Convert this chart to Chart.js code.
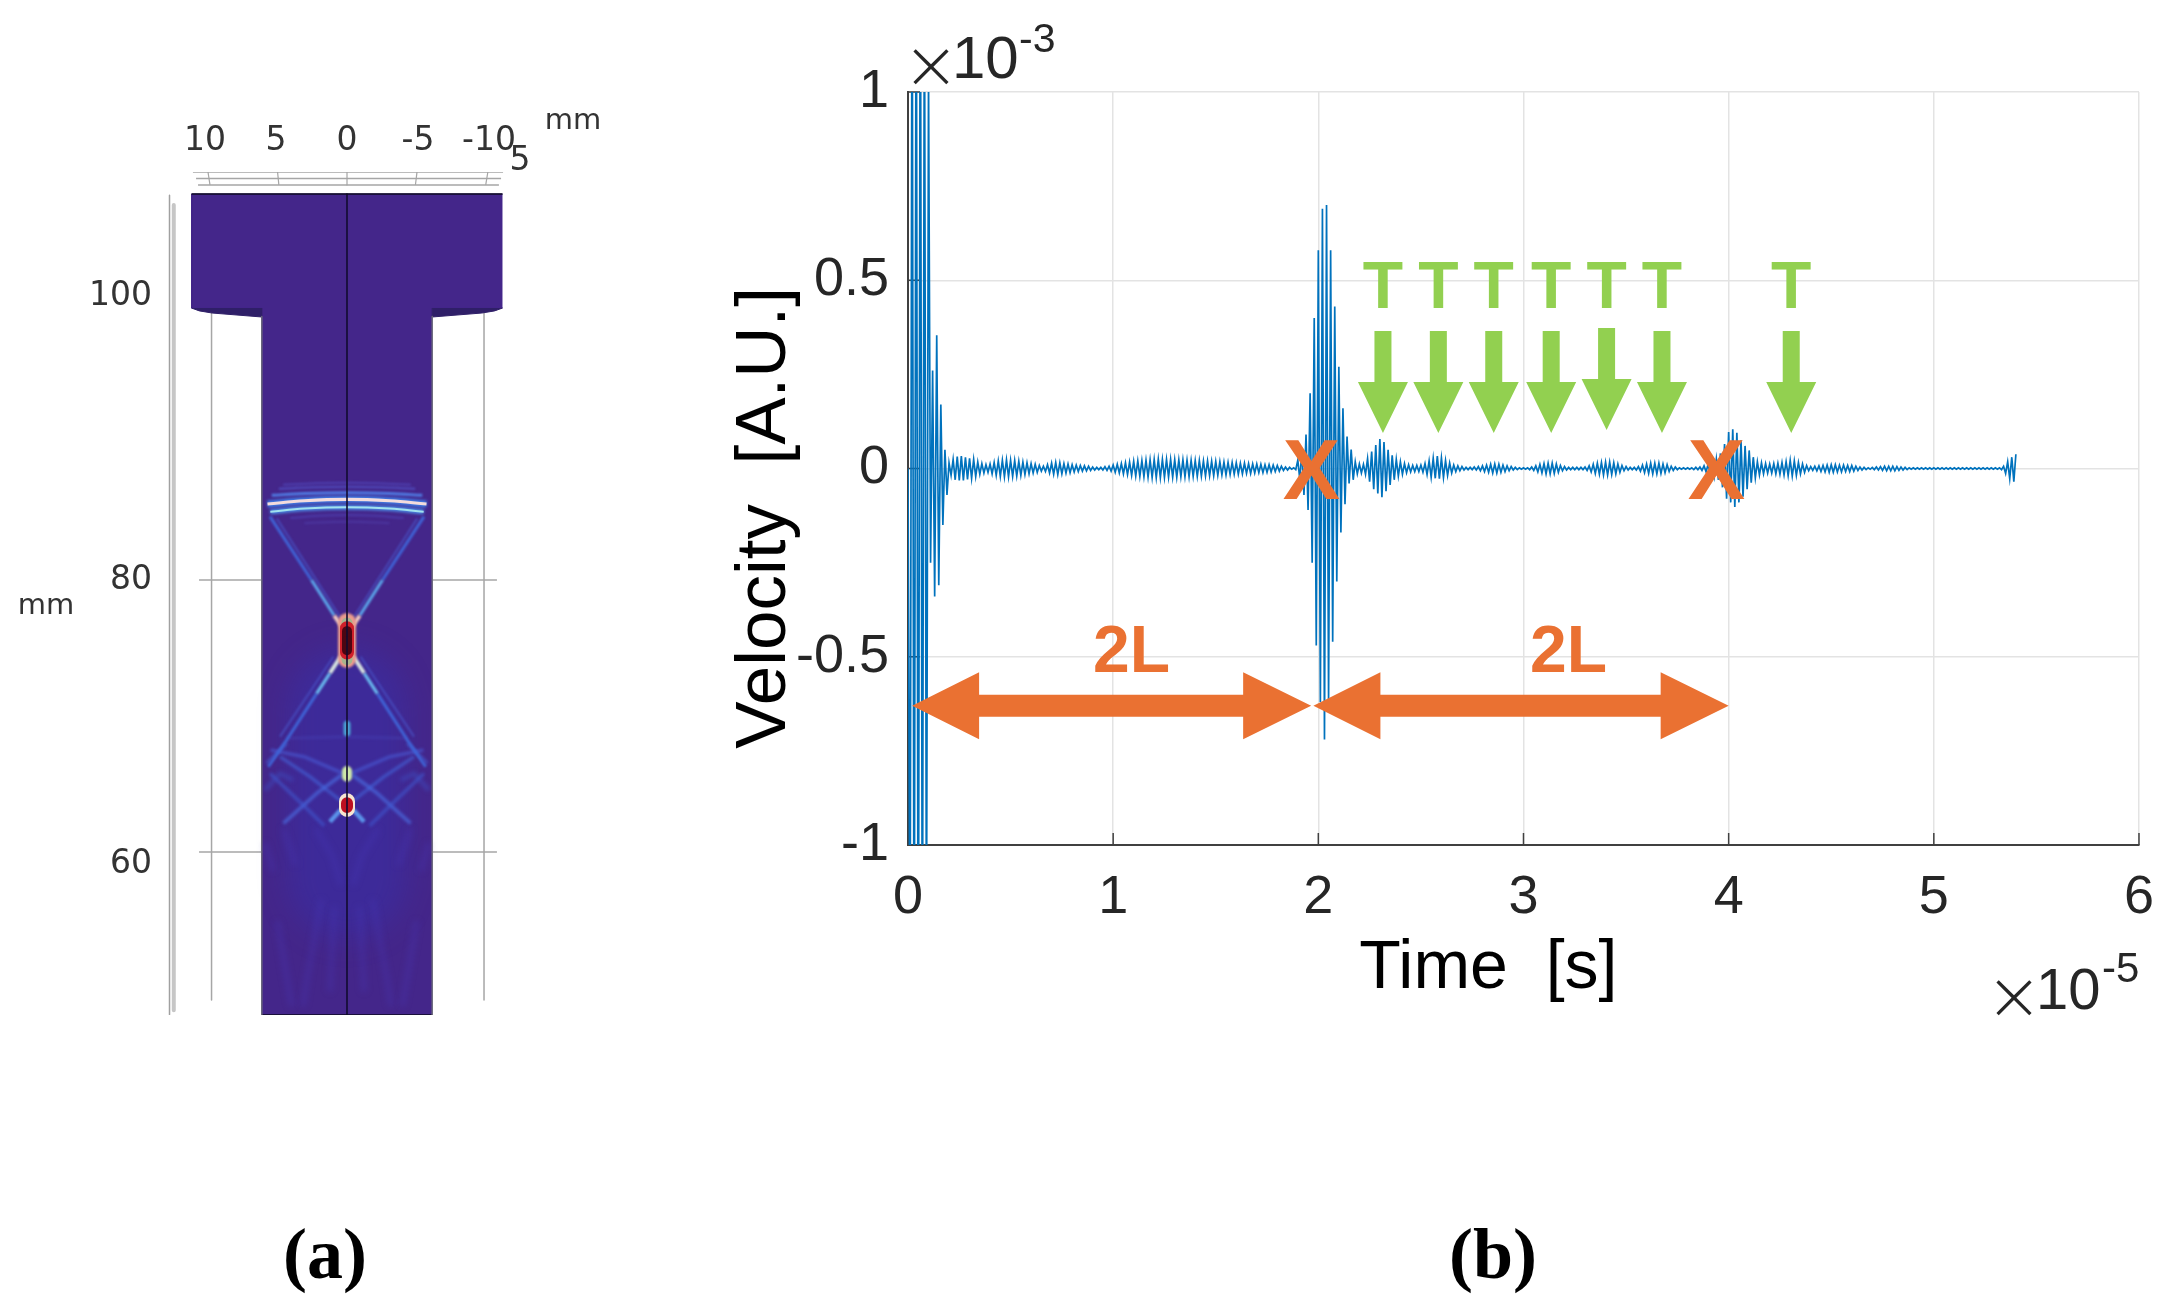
<!DOCTYPE html>
<html><head><meta charset="utf-8">
<script src="https://cdn.jsdelivr.net/npm/chart.js@4"></script>
<style>html,body{margin:0;padding:0;background:#fff}canvas{position:absolute;left:0;top:0}</style>
</head><body>
<canvas id="field" width="2175" height="1308"></canvas>
<canvas id="signal" width="2175" height="1308"></canvas>
<script>
/* ---------- panel (b): velocity samples, one sample every 0.01 ×10^-5 s, in ×10^-3 A.U. ---------- */
const timeTicksStep = 1;
const sampleStep = 0.01;
const velocity00 = [0,-1.4,1.5,-1.6,1.6,-1.7,1.6,-1.5,1.4,-1.3,
 1.05,-.25,.26,-.34,.354,-.31,.17,-.15,.05,-.07,
 .015,-.018,.024,-.03,.032,-.032,.033,-.032,.03,-.029,
 .027,-.026,.024,-.021,.017,-.015,.013,-.012,.01,-.01,
 .012,-.014,.016,-.018,.02,-.021,.022,-.022,.023,-.022];
const velocity05 = [.022,-.021,.021,-.02,.019,-.018,.017,-.016,.015,-.014,
 .013,-.012,.011,-.01,.008,-.007,.006,-.008,.01,-.012,
 .014,-.015,.016,-.016,.015,-.014,.013,-.012,.012,-.011,
 .01,-.009,.009,-.008,.008,-.007,.007,-.006,.006,-.005,
 .004,-.004,.003,-.003,.003,-.004,.005,-.005,.006,-.007];
const velocity10 = [.009,-.01,.011,-.012,.013,-.014,.015,-.016,.017,-.018,
 .019,-.02,.02,-.021,.021,-.022,.022,-.023,.023,-.024,
 .024,-.024,.025,-.024,.024,-.024,.024,-.023,.024,-.023,
 .023,-.023,.023,-.022,.023,-.022,.022,-.022,.022,-.021,
 .021,-.021,.021,-.02,.02,-.02,.02,-.019,.019,-.019];
const velocity15 = [.019,-.018,.018,-.017,.017,-.017,.016,-.016,.016,-.015,
 .015,-.015,.014,-.014,.014,-.013,.013,-.013,.012,-.012,
 .012,-.011,.011,-.011,.01,-.01,.01,-.009,.009,-.008,
 .008,-.007,.006,-.005,.004,-.004,.003,-.002,.002,-.003,
 .022,-.03,.05,-.07,.09,-.11,.2,-.25,.4,-.47];
const velocity20 = [.58,-.62,.69,-.72,.7,-.62,.58,-.46,.43,-.3,
 .27,-.17,.16,-.095,.085,-.04,.05,-.03,.018,-.014,
 .012,-.012,.011,-.015,.026,-.035,.045,-.055,.062,-.066,
 .078,-.076,.07,-.06,.05,-.044,.035,-.03,.024,-.02,
 .018,-.015,.013,-.011,.01,-.009,.008,-.008,.008,-.008];
const velocity25 = [.009,-.01,.013,-.016,.02,-.023,.027,-.026,.033,-.027,
 .028,-.024,.021,-.018,.015,-.012,.009,-.008,.007,-.006,
 .005,-.004,.003,-.003,.003,-.003,.004,-.004,.005,-.006,
 .007,-.008,.009,-.01,.011,-.012,.012,-.012,.011,-.01,
 .009,-.008,.007,-.006,.005,-.004,.003,-.003,.002,-.002];
const velocity30 = [.002,-.002,.002,-.003,.004,-.005,.007,-.009,.011,-.012,
 .013,-.014,.014,-.014,.014,-.013,.012,-.01,.008,-.006,
 .005,-.004,.003,-.003,.003,-.003,.003,-.003,.003,-.003,
 .004,-.005,.007,-.009,.011,-.013,.014,-.015,.016,-.017,
 .017,-.017,.017,-.016,.015,-.014,.012,-.01,.008,-.006];
const velocity35 = [.005,-.004,.003,-.003,.003,-.004,.005,-.007,.009,-.011,
 .012,-.013,.014,-.014,.014,-.014,.014,-.013,.012,-.011,
 .01,-.008,.006,-.005,.004,-.003,.002,-.002,.002,-.002,
 .002,-.002,.002,-.003,.003,-.003,.004,-.005,.007,-.009,
 .012,-.015,.018,-.02,.025,-.03,.04,-.05,.065,-.08];
const velocity40 = [.097,-.09,.104,-.102,.095,-.09,.075,-.075,.06,-.055,
 .048,-.038,.03,-.025,.018,-.017,.015,-.014,.013,-.012,
 .012,-.012,.013,-.014,.014,-.015,.016,-.017,.018,-.019,
 .022,-.02,.02,-.018,.016,-.014,.012,-.01,.008,-.006,
 .005,-.005,.006,-.006,.007,-.008,.008,-.009,.009,-.01];
const velocity45 = [.01,-.01,.01,-.009,.009,-.009,.009,-.008,.008,-.008,
 .008,-.007,.006,-.005,.004,-.004,.003,-.003,.002,-.002,
 .003,-.003,.004,-.004,.005,-.005,.006,-.006,.006,-.006,
 .006,-.006,.005,-.005,.004,-.004,.003,-.003,.002,-.002,
 .002,-.002,.002,-.002,.002,-.002,.002,-.002,.002,-.002];
const velocity50 = [.002,-.002,.002,-.002,.002,-.002,.002,-.002,.002,-.002,
 .002,-.002,.002,-.002,.002,-.002,.002,-.002,.002,-.002,
 .002,-.002,.002,-.002,.002,-.002,.002,-.002,.002,-.002,
 .002,-.002,.002,-.003,.006,-.013,.018,-.027,.03,-.035,.038];

const transverseTimes = [2.315,2.585,2.855,3.135,3.405,3.675,4.305];
const transverseTips  = [.094,.094,.094,.094,.102,.094,.094];
const crossTimes = [1.966,3.94];
const spanStarts = [.02,1.976];
const spanEnds   = [1.965,4.0];
const spanLabelTimes = [1.09,3.22];
const spanVelocity = -.63;

/* ---------- panel (a): geometry and field features, in mm ---------- */
const depthTicks = [100,80,60];
const widthTicks = [10,5,0,-5,-10];
const bodyOutline = [[-10.95,107.18],[10.95,107.18],[10.95,99.15],[6,99.15],[6,49.37],[-6,49.37],[-6,99.15],[-10.95,99.15]];
const flangeUnder = [[10.95,99.15],[10.4,98.95],[9.5,98.8],[6,98.52],[6,99.15]];
const guideVerticalX = [9.54,-9.65];
const guideHorizontalY = [80,60.85];
const topGridY = [108.73,108.27,107.82];
const topGridLeft = [10.85,10.63,10.49];
const topGridRight = [-10.99,-10.85,-10.7];
const topTicks = [[9.79,108.73,9.65,107.82],[4.89,108.73,4.8,107.82],[0,108.73,0,107.82],[-4.93,108.73,-4.82,107.82],[-9.92,108.73,-9.77,107.82]];
const arcMain  = [[5.6,85.35],[3,85.58],[0,85.68],[-3,85.58],[-5.6,85.35]];
const arcLower = [[5.4,84.81],[3,85.03],[0,85.12],[-3,85.03],[-5.4,84.81]];
const arcUpper = [[5.3,85.96],[3,86.09],[0,86.15],[-3,86.09],[-5.3,85.96]];
const arcFaintA = [[4.8,86.43],[2.4,86.53],[0,86.57],[-2.4,86.53],[-4.8,86.43]];
const arcFaintB = [[4.5,86.7],[2.2,86.81],[0,86.85],[-2.2,86.81],[-4.5,86.7]];
const arcFaintC = [[4,84.36],[2,84.52],[0,84.57],[-2,84.52],[-4,84.36]];
const arcFaintD = [[3,84],[1.5,84.07],[0,84.1],[-1.5,84.07],[-3,84]];
const rayTopOuter = [[5.42,84.46],[2.5,80]];
const rayTopMid   = [[2.5,80],[.9,77.5]];
const rayTopInner = [[.9,77.5],[.35,76.7]];
const rayTopFaint = [[4.95,84.34],[.49,77.4]];
const rayLowInner = [[.45,74.6],[1.2,73.45]];
const rayLowMid   = [[1.2,73.45],[2.14,72]];
const rayLowOuter = [[2.14,72],[4.25,68.73],[5.54,66.85]];
const rayLowFaint = [[.96,74.6],[4.72,68.97]];
const webA = [[4.25,68.85],[0,68.97]];
const webB = [[5.66,67.09],[4.25,68.5]];
const webC = [[0,66.27],[3.03,67.56],[5.38,68.03]];
const webD = [[4.48,62.86],[2.14,64.97],[.38,66.27]];
const webE = [[5.42,66.38],[2.84,63.92],[1.6,62.7]];
const webF = [[.49,64.5],[2.6,66.15],[4.72,67.56]];
const webG = [[.45,63.8],[1.2,62.98]];
const webH = [[5.77,65.21],[4.72,66.38],[3.78,65.9]];
const streakA = [[2.2,62.5],[1,60.5],[.4,58.5]];
const streakB = [[4.5,62.5],[3.6,59.9]];
const streakC = [[5.8,61.5],[5.2,59.5]];
const streakD = [[1.8,57.5],[2.8,52],[3.1,50]];
const streakE = [[4.9,56],[3.9,50]];
const streakF = [[.9,57],[1.2,51]];
const lowerWash = [[0,71],[0,59]];
const hotHalo = [[0,77.05],[0,74.45]];
const hotRed  = [[0,76.6],[0,74.9]];
const hotDarkA = [[0,76.4],[0,75.8]];
const hotDarkB = [[0,75.7],[0,75.05]];
const hotCapA = [[0,76.98],[0,76.74]];
const hotCapB = [[0,74.66],[0,74.4]];
const spotBlue = [[0,69.85],[0,69.25]];
const spotPale = [[0,66.55],[0,66.15]];
const spotRedHalo = [[0,64.42],[0,63.88]];
const spotRedCore = [[0,64.28],[0,64.02]];
const centreLine = [[0,107.18],[0,49.37]];
const gaugeDark = [[12.5,107.1],[12.5,49.4]];
const gaugeLight = [[12.2,106.4],[12.2,49.7]];

/* ---------- shared helpers ---------- */
const SANS = '"Liberation Sans", Arial, sans-serif';
function put(ctx, s, x, y, font, color, align) {
  ctx.font = font; ctx.fillStyle = color; ctx.textAlign = align || 'center'; ctx.textBaseline = 'alphabetic';
  ctx.fillText(s, x, y);
}
const ORANGE = '#EA7132', GREEN = '#92D050';

/* ---------- panel (a) ---------- */
const layers = [];
function add(pts, color, width, opt) {
  opt = opt || {};
  layers.push({
    data: pts.map(p => ({x: p[0], y: p[1]})),
    borderColor: color, borderWidth: width, pointRadius: 0,
    tension: opt.tension || 0, blurPx: opt.blur || 0,
    fill: opt.fill ? 'shape' : false, backgroundColor: opt.fill || 'transparent',
    borderCapStyle: opt.cap || 'butt', borderJoinStyle: 'round'
  });
}
function both(pts, color, width, opt) {
  add(pts, color, width, opt);
  add(pts.map(p => [-p[0], p[1]]), color, width, opt);
}
const GUIDE = '#a6a6a6';
add(gaugeLight, '#c6c6c6', 4);
add(gaugeDark, '#a0a0a0', 1.5);
guideVerticalX.forEach(x => add([[x,98.8],[x,50.43]], GUIDE, 1.5));
guideHorizontalY.forEach(y => add([[10.42,y],[-10.56,y]], GUIDE, 1.5));
topGridY.forEach((y,i) => add([[topGridLeft[i],y],[topGridRight[i],y]], GUIDE, 1.5));
topTicks.forEach(t => add([[t[0],t[1]],[t[2],t[3]]], GUIDE, 1.2));
add(bodyOutline, '#44268a', 1, {fill:'#44268a'});
add(flangeUnder, '#2f1f68', 1, {fill:'#2f1f68'});
add(flangeUnder.map(p => [-p[0],p[1]]), '#2f1f68', 1, {fill:'#2f1f68'});
add(lowerWash, 'rgba(48,52,190,.3)', 120, {blur:14});
[streakA,streakB,streakC,streakD,streakE,streakF].forEach(s => both(s, 'rgba(72,60,190,.32)', 5, {blur:3}));
both(webA, 'rgba(80,90,210,.35)', 2, {blur:1.4});
both(webB, 'rgba(66,100,220,.6)', 3, {blur:1.6});
both(webC, 'rgba(74,96,220,.65)', 3, {blur:1.6});
both(webD, 'rgba(74,110,226,.7)', 3.5, {blur:1.8});
both(webE, 'rgba(64,90,210,.6)', 3.5, {blur:1.8});
both(webF, 'rgba(68,104,222,.65)', 3, {blur:1.6});
both(webH, 'rgba(62,80,196,.55)', 4, {blur:2});
both(webG, '#5b94ea', 4.5, {blur:1.2});
add(arcFaintB, 'rgba(84,84,205,.55)', 2, {blur:1.2, tension:.4});
add(arcFaintA, 'rgba(84,96,215,.65)', 2, {blur:1.2, tension:.4});
add(arcFaintC, 'rgba(84,78,195,.5)', 2, {blur:1.2, tension:.4});
add(arcFaintD, 'rgba(84,70,185,.45)', 2, {blur:1.2, tension:.4});
add(arcUpper, '#4f7ce4', 3, {blur:1, tension:.4});
add(arcLower, '#4a8fe8', 5, {blur:1.5, tension:.4});
add(arcLower, '#a2e2ee', 2, {blur:.6, tension:.4});
add(arcMain, '#3f7de6', 7, {blur:1.8, tension:.4});
add(arcMain, '#f3dcdc', 3.2, {blur:.6, tension:.4});
both(rayTopFaint, 'rgba(72,84,200,.7)', 2, {blur:1.2});
both(rayLowFaint, 'rgba(72,84,200,.7)', 2, {blur:1.2});
both(rayTopOuter, '#3f63d6', 3, {blur:1});
both(rayLowOuter, '#3f63d6', 3, {blur:1});
both(rayTopMid, '#5aa4ea', 3.2, {blur:.9});
both(rayLowMid, '#68b8ee', 3.2, {blur:.9});
both(rayTopInner, '#f0c8c0', 4, {blur:.8});
both(rayLowInner, '#d8e4e0', 4, {blur:.8});
add(hotHalo, '#ea9c8c', 18, {blur:1.2});
add(hotCapA, '#a8b48c', 11, {blur:.5});
add(hotCapB, '#a8b48c', 11, {blur:.5});
add(hotRed, '#cf1f2a', 14, {blur:.4});
add(hotDarkA, '#4c0612', 10, {blur:.3});
add(hotDarkB, '#4c0612', 10, {blur:.3});
add(spotBlue, '#4aa4d4', 7, {blur:1.2});
add(spotPale, '#cde8a8', 10, {blur:.8});
add(spotRedHalo, '#f6e6d2', 16, {blur:.4});
add(spotRedCore, '#bd1020', 12, {blur:.3});
add(centreLine, '#120c30', 1.6);
add([[-10.95,107.18],[10.95,107.18]], '#0d0a20', 1.6);
add([[-6,49.37],[6,49.37]], '#0d0a20', 1.6);
both([[6,98.55],[6,49.37]], '#6f6f7c', 1.4);

const fieldFx = {
  id: 'fieldFx',
  beforeDatasetDraw(chart, a) { const b = chart.data.datasets[a.index].blurPx; if (b) chart.ctx.filter = 'blur(' + b + 'px)'; },
  afterDatasetDraw(chart) { chart.ctx.filter = 'none'; },
  afterDraw(chart) {
    const c = chart.ctx; c.save();
    put(c, 'mm', 573, 129, '29px "DejaVu Sans"', '#333');
    put(c, 'mm', 46, 614, '29px "DejaVu Sans"', '#333');
    put(c, '5', 520, 170, '33px "DejaVu Sans"', '#333');
    put(c, '(a)', 325, 1278, 'bold 72px "Liberation Serif"', '#000');
    c.restore();
  }
};
new Chart(document.getElementById('field'), {
  type: 'line',
  data: { datasets: layers.slice().reverse() },
  options: {
    responsive: false, animation: false, devicePixelRatio: 1,
    layout: { padding: { left: 80, right: 1641, top: 112, bottom: 293 } },
    plugins: { legend: {display:false}, tooltip: {enabled:false}, title: {display:false} },
    scales: {
      x: { type:'linear', position:'top', reverse:true, min:-13.17, max:13.17,
        afterFit(s){ s.height = 60; },
        afterBuildTicks(s){ s.ticks = widthTicks.map(value => ({value})); },
        grid:{display:false, drawTicks:false}, border:{display:false},
        ticks:{ autoSkip:false, maxRotation:0, padding:11, color:'#333', font:{family:'DejaVu Sans',size:33}, callback:v=>String(v) } },
      y: { type:'linear', min:49.37, max:108.73,
        afterFit(s){ s.width = 80; },
        afterBuildTicks(s){ s.ticks = depthTicks.map(value => ({value})); },
        grid:{display:false, drawTicks:false}, border:{display:false},
        ticks:{ autoSkip:false, padding:8, color:'#333', font:{family:'DejaVu Sans',size:33}, callback:v=>String(v) } }
    }
  },
  plugins: [fieldFx]
});

/* ---------- panel (b) ---------- */
const velocitySeries = [].concat(velocity00,velocity05,velocity10,velocity15,velocity20,velocity25,velocity30,velocity35,velocity40,velocity45,velocity50);
const signalFx = {
  id: 'signalFx',
  beforeDatasetsDraw(chart) {
    const c = chart.ctx, a = chart.chartArea, sx = chart.scales.x, sy = chart.scales.y;
    c.save(); c.strokeStyle = '#404040'; c.lineWidth = 1.5; c.beginPath();
    sx.ticks.forEach(t => { const p = sx.getPixelForValue(t.value); c.moveTo(p, a.bottom); c.lineTo(p, a.bottom - 12); });
    sy.ticks.forEach(t => { const p = sy.getPixelForValue(t.value); c.moveTo(a.left, p); c.lineTo(a.left + 12, p); });
    c.stroke(); c.restore();
  },
  afterDraw(chart) {
    const c = chart.ctx, sx = chart.scales.x, sy = chart.scales.y;
    c.save();
    // transverse echoes
    transverseTimes.forEach((t,i) => {
      const x = sx.getPixelForValue(t), tip = sy.getPixelForValue(transverseTips[i]);
      c.fillStyle = GREEN; c.beginPath();
      c.moveTo(x, tip); c.lineTo(x-25, tip-51); c.lineTo(x-8.5, tip-51); c.lineTo(x-8.5, tip-102);
      c.lineTo(x+8.5, tip-102); c.lineTo(x+8.5, tip-51); c.lineTo(x+25, tip-51); c.closePath(); c.fill();
      put(c, 'T', x, sy.getPixelForValue(.425), 'bold 66px ' + SANS, GREEN);
    });
    // two-way path arrows
    const yc = sy.getPixelForValue(spanVelocity);
    spanStarts.forEach((t0,i) => {
      const a0 = sx.getPixelForValue(t0), a1 = sx.getPixelForValue(spanEnds[i]);
      c.fillStyle = ORANGE; c.beginPath();
      c.moveTo(a0, yc); c.lineTo(a0+67, yc-33.5); c.lineTo(a0+67, yc-11); c.lineTo(a1-68, yc-11); c.lineTo(a1-68, yc-33.5);
      c.lineTo(a1, yc); c.lineTo(a1-68, yc+33.5); c.lineTo(a1-68, yc+11); c.lineTo(a0+67, yc+11); c.lineTo(a0+67, yc+33.5);
      c.closePath(); c.fill();
      put(c, '2L', sx.getPixelForValue(spanLabelTimes[i]), 672, 'bold 66px ' + SANS, ORANGE);
    });
    crossTimes.forEach(t => put(c, 'X', sx.getPixelForValue(t), 499, 'bold 86px ' + SANS, ORANGE));
    // axis multipliers
    const THIN = '200 68px "DejaVu Sans", ' + SANS;
    put(c, '×', 931, 88, THIN, '#262626');
    put(c, '10', 952, 78, '60px ' + SANS, '#262626', 'left');
    put(c, '-3', 1019, 52, '41px ' + SANS, '#262626', 'left');
    put(c, '×', 2014, 1019, THIN, '#262626');
    put(c, '10', 2036, 1009, '58px ' + SANS, '#262626', 'left');
    put(c, '-5', 2102, 982, '42px ' + SANS, '#262626', 'left');
    put(c, '(b)', 1493, 1278, 'bold 72px "Liberation Serif"', '#000');
    c.restore();
  }
};
new Chart(document.getElementById('signal'), {
  type: 'line',
  data: { datasets: [{
    label: 'Velocity',
    data: velocitySeries.map((v,i) => ({x: i*sampleStep, y: v})),
    borderColor: '#0072BD', borderWidth: 1.7, pointRadius: 0, tension: 0, fill: false
  }] },
  options: {
    responsive: false, animation: false, devicePixelRatio: 1,
    layout: { padding: { left: 723, right: 32, top: 92, bottom: 298 } },
    plugins: { legend: {display:false}, tooltip: {enabled:false}, title: {display:false} },
    scales: {
      x: { type:'linear', min:0, max:6,
        afterFit(s){ s.height = 165; },
        grid:{ color:'#e3e3e3', lineWidth:1.5, drawTicks:false },
        border:{ color:'#404040', width:2 },
        ticks:{ stepSize:timeTicksStep, autoSkip:false, maxRotation:0, padding:21, color:'#262626', font:{family:'Liberation Sans',size:54}, callback:v=>String(v) },
        title:{ display:true, text:'Time  [s]   \u2009', color:'#000', padding:0, font:{family:'Liberation Sans',size:68} } },
      y: { type:'linear', min:-1, max:1,
        afterFit(s){ s.width = 185; },
        grid:{ color:'#e3e3e3', lineWidth:1.5, drawTicks:false },
        border:{ color:'#404040', width:2 },
        ticks:{ stepSize:.5, autoSkip:false, padding:19, color:'#262626', font:{family:'Liberation Sans',size:54}, callback:v=>String(v) },
        title:{ display:true, text:'Velocity  [A.U.]     ', color:'#000', padding:0, font:{family:'Liberation Sans',size:71} } }
    }
  },
  plugins: [signalFx]
});
</script>
</body></html>
